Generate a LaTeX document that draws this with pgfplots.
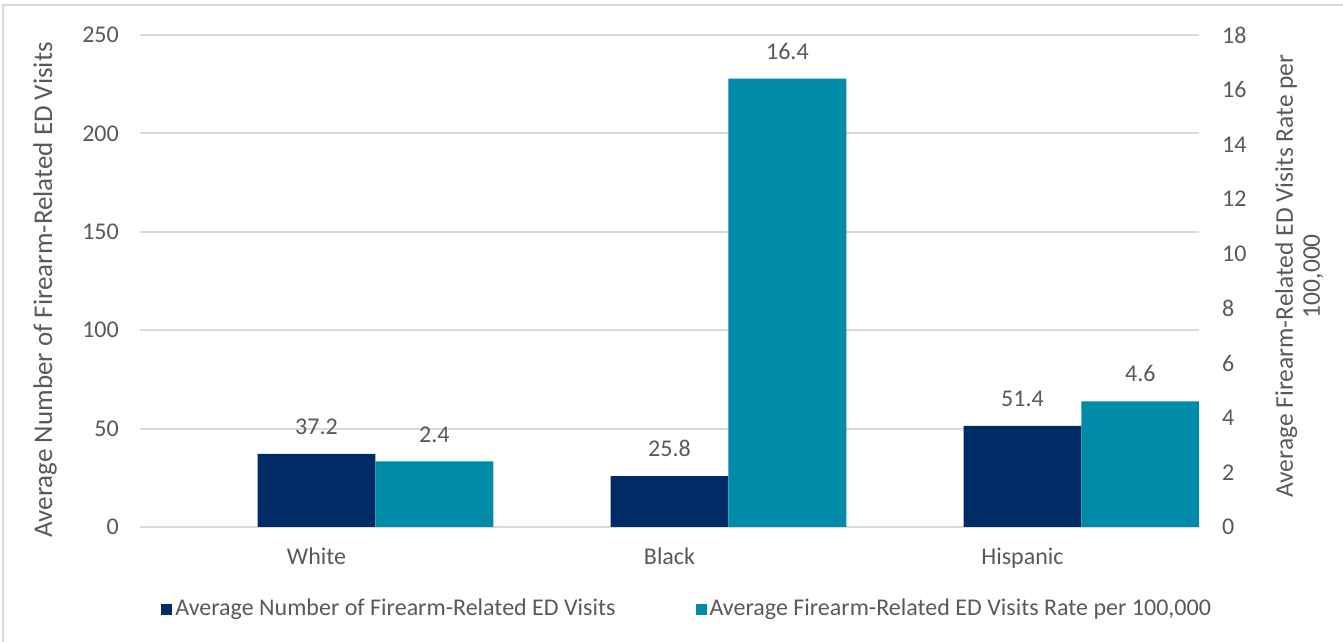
\documentclass[border=0pt]{standalone}
\usepackage{fontspec}
\setmainfont{Carlito}
\usepackage{pgfplots}
\pgfplotsset{compat=1.18}
\definecolor{navy}{HTML}{002B64}
\definecolor{teal2}{HTML}{008CA8}
\definecolor{txt}{HTML}{595959}
\definecolor{gridc}{HTML}{D9D9D9}
\newcommand{\fs}{\fontsize{24pt}{28pt}\selectfont}
\begin{document}
\fs
\begin{tikzpicture}[x=1pt,y=1pt]
\useasboundingbox (0,0) rectangle (1343,642);
\draw[gridc, line width=2pt] (3,-5) -- (3,637) -- (1350,637);
\pgfplotsset{
  common/.style={
    at={(140pt,115pt)}, anchor=south west, scale only axis,
    width=1059pt, height=492pt,
    xmin=-0.5, xmax=2.5, ymin=0,
    ybar, bar width=0.334, bar shift=0pt,
    axis line style={draw=none}, major tick length=0pt,
    ticklabel style={font=\fs, text=txt},
    /pgf/number format/assume math mode=true,
    nodes near coords,
    every node near coord/.append style={font=\fs, text=txt, anchor=south, inner sep=0pt, yshift=19pt},
  }
}
\begin{axis}[common,
  ymax=250, ytick={0,50,...,250},
  ymajorgrids, major grid style={gridc, line width=2pt},
  xtick={0,1,2}, xticklabels={White,Black,Hispanic},
  xticklabel style={yshift=-13pt},
  yticklabel style={xshift=-13pt},
  every axis y label/.style={at={(axis description cs:-0.0897,0.482)}, rotate=90, anchor=center,
    font=\fontsize{27pt}{32pt}\selectfont, text=txt},
  ylabel={Average Number of Firearm-Related ED Visits},
]
\addplot[fill=navy, draw=none] coordinates {(0,37.2) (1,25.8) (2,51.4)};
\end{axis}
\begin{axis}[common,
  ymax=18, ytick={0,2,...,18},
  yticklabel pos=right, xtick=\empty,
  yticklabel style={xshift=15pt},
  every axis y label/.style={at={(axis description cs:1.0945,0.51)}, rotate=90, anchor=center, align=center,
    font=\fontsize{25.5pt}{27pt}\selectfont, text=txt},
  ylabel={Average Firearm-Related ED Visits Rate per\\100,000},
  legend style={at={(axis description cs:0.5171,-0.1667)}, anchor=center, legend columns=2, draw=none, fill=none, font=\fs, text=txt,
    nodes={inner sep=3pt},
    /tikz/every even column/.append style={column sep=77pt}},
]
\addlegendimage{fill=navy, draw=none, legend image code/.code={\fill[navy] (0pt,-6pt) rectangle (11pt,5pt);}}
\addlegendentry{Average Number of Firearm-Related ED Visits}
\addplot[fill=teal2, draw=none, legend image code/.code={\fill[teal2] (0pt,-6pt) rectangle (11pt,5pt);}] coordinates {(0.334,2.4) (1.334,16.4) (2.334,4.6)};
\addlegendentry{Average Firearm-Related ED Visits Rate per 100,000}
\end{axis}
\end{tikzpicture}
\end{document}
